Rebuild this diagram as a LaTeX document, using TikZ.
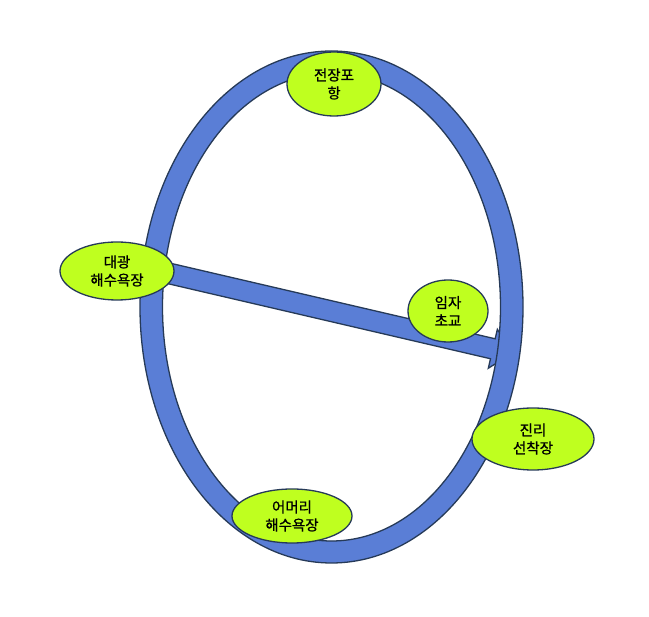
\documentclass[tikz,border=0pt]{standalone}
\usepackage{fontspec}
\newfontfamily\cjk[FakeBold=0.8]{Noto Sans CJK KR}
\usepackage{tikz}
\usetikzlibrary{shapes.geometric,calc}
\definecolor{ringBlue}{HTML}{5A7ED6}
\definecolor{lineNavy}{HTML}{263A58}
\definecolor{spotGreen}{HTML}{BFFF1F}
\tikzset{
	spot/.style={ellipse, draw=lineNavy, line width=1.3pt, fill=spotGreen, inner sep=0pt,
		align=center, font=\cjk\fontsize{14.5}{18}\selectfont},
	band/.style={fill=ringBlue, draw=lineNavy, line width=1.3pt}
}

\begin{document}
\begin{tikzpicture}[x=1pt,y=-1pt]
	\newcommand{\ringCx}{331.5}
	\newcommand{\ringCy}{307}
	\newcommand{\barLength}{352}
	\newcommand{\barHalf}{10.25}
	\newcommand{\headHalf}{20}
	\newcommand{\headLength}{20}

	\useasboundingbox (0,0) rectangle (649,617);

	% bar from the beach to the school
	\coordinate (bar_start) at (150,269);
	\begin{scope}[shift={(bar_start)},rotate=-13.1]
		\draw[band] (0,-\barHalf) -- (\barLength,-\barHalf) -- (\barLength,-\headHalf)
			-- (\barLength+\headLength,0) -- (\barLength,\headHalf) -- (\barLength,\barHalf)
			-- (0,\barHalf) -- cycle;
	\end{scope}

	% ring
	\coordinate (ring_center) at (\ringCx,\ringCy);
	\draw[band, even odd rule] (ring_center) ellipse [x radius=191.5, y radius=256]
		(ring_center) ellipse [x radius=169, y radius=234];

	% places
	\node[spot, minimum width=94, minimum height=64] (jeonjang) at (334,84) {전장포\\항};
	\node[spot, minimum width=114, minimum height=58] (daegwang) at (117,271) {대광\\해수욕장};
	\node[spot, minimum width=80, minimum height=62] (imja) at (448,311) {임자\\초교};
	\node[spot, minimum width=122, minimum height=62] (jinri) at (533,439) {진리\\선착장};
	\node[spot, minimum width=120, minimum height=54] (eomeori) at (292,516) {어머리\\해수욕장};
\end{tikzpicture}
\end{document}
